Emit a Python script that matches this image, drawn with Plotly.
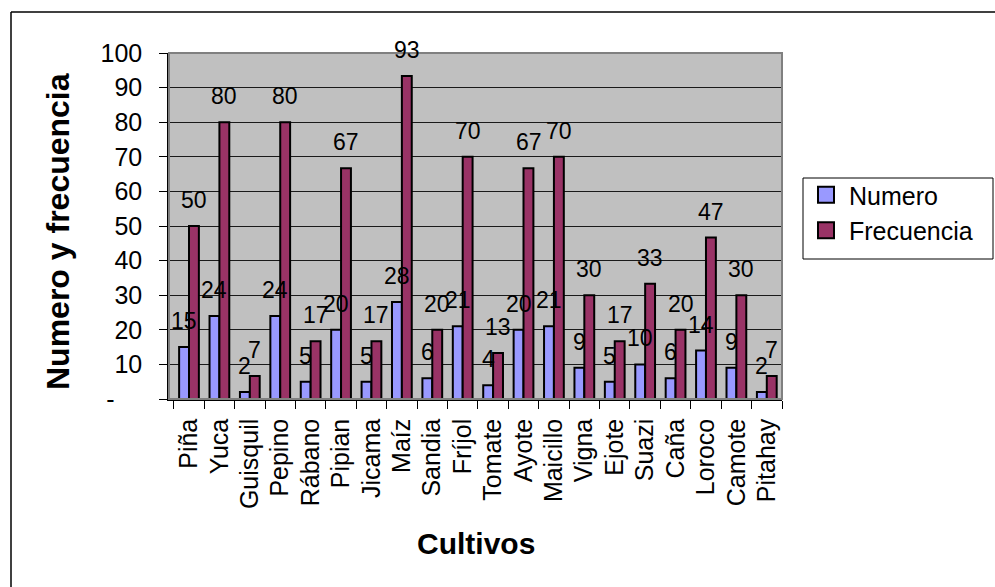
import plotly.graph_objects as go

categorias = ["Piña", "Yuca", "Guisquil", "Pepino", "Rábano", "Pipian", "Jicama", "Maíz",
              "Sandia", "Fríjol", "Tomate", "Ayote", "Maicillo", "Vigna", "Ejote", "Suazi",
              "Caña", "Loroco", "Camote", "Pitahay"]
numero = [15, 24, 2, 24, 5, 20, 5, 28, 6, 21, 4, 20, 21, 9, 5, 10, 6, 14, 9, 2]
frecuencia = [50, 80, 6.67, 80, 16.67, 66.67, 16.67, 93.33, 20, 70, 13.33, 66.67, 70,
              30, 16.67, 33.33, 20, 46.67, 30, 6.67]
series_names = ["Numero", "Frecuencia"]
series_colors = ["#9999FF", "#993366"]
y_ticks = [0, 10, 20, 30, 40, 50, 60, 70, 80, 90, 100]
y_ticktext = ["-\u00a0\u00a0\u00a0\u00a0", "10", "20", "30", "40", "50", "60", "70", "80", "90", "100"]

FONT = "Liberation Sans, Arial, sans-serif"
W, H = 995, 587
L, R, T, B = 169, 782, 53, 399

fig = go.Figure()
for name, vals, col in zip(series_names, [numero, frecuencia], series_colors):
    fig.add_trace(go.Bar(name=name, x=categorias, y=vals, showlegend=False,
                         marker=dict(color=col, line=dict(color="black", width=2))))
# legend entries with larger square swatches (as in the original)
for i, (name, col) in enumerate(zip(series_names, series_colors)):
    fig.add_trace(go.Scatter(name=name, x=[None], y=[None], mode="markers",
                             legendgroup=f"g{i}",
                             marker=dict(symbol="square", size=16, color=col,
                                         line=dict(color="black", width=2))))

annotations = []
for cat, n, f in zip(categorias, numero, frecuencia):
    annotations.append(dict(x=cat, y=n, xref="x", yref="y", text=str(round(n)),
                            showarrow=False, xshift=-5, yshift=26, yanchor="middle",
                            font=dict(family=FONT, size=23, color="black")))
    annotations.append(dict(x=cat, y=f, xref="x", yref="y", text=str(round(f)),
                            showarrow=False, xshift=5, yshift=26, yanchor="middle",
                            font=dict(family=FONT, size=23, color="black")))

pw, ph = R - L, B - T
annotations.append(dict(text="<b>Cultivos</b>", xref="paper", yref="paper",
                        x=0.5, y=(B - 543) / ph, xanchor="center", yanchor="middle",
                        showarrow=False, font=dict(family=FONT, size=30, color="black")))
annotations.append(dict(text="<b>Numero y frecuencia</b>", xref="paper", yref="paper",
                        x=(58 - L) / pw, y=(B - 232) / ph, xanchor="center", yanchor="middle",
                        textangle=-90, showarrow=False,
                        font=dict(family=FONT, size=32, color="black")))

shapes = [
    dict(type="rect", xref="paper", yref="paper", x0=0, x1=1, y0=0, y1=1,
         line=dict(color="#808080", width=2), layer="above"),
    dict(type="line", xref="paper", yref="paper", x0=(11 - L) / pw, x1=(11 - L) / pw,
         y0=(B - 12) / ph, y1=(B - 600) / ph, line=dict(color="black", width=1.5)),
    dict(type="line", xref="paper", yref="paper", x0=(11 - L) / pw, x1=(1000 - L) / pw,
         y0=(B - 12) / ph, y1=(B - 12) / ph, line=dict(color="black", width=1.5)),
    # legend frame
    dict(type="rect", xref="paper", yref="paper", x0=(803 - L) / pw, x1=(993 - L) / pw,
         y0=(B - 259) / ph, y1=(B - 178) / ph, line=dict(color="black", width=1),
         fillcolor="white", layer="below"),
]

fig.update_layout(
    width=W, height=H,
    margin=dict(l=L, r=W - R, t=T, b=H - B, pad=0, autoexpand=False),
    paper_bgcolor="white", plot_bgcolor="#C0C0C0",
    barmode="group", bargap=0.35, bargroupgap=0,
    font=dict(family=FONT, size=24, color="black"),
    showlegend=True,
    legend=dict(x=(803 - L) / pw, y=(B - 172) / ph, xanchor="left", yanchor="top",
                borderwidth=0, bgcolor="rgba(0,0,0,0)", itemwidth=36,
                tracegroupgap=6, traceorder="normal",
                font=dict(family=FONT, size=25, color="black")),
    annotations=annotations, shapes=shapes,
)
fig.update_xaxes(type="category", tickangle=-90, ticks="outside", ticklen=8,
                 tickcolor="black", tickson="boundaries", showline=True, dtick=1,
                 linecolor="black", linewidth=1.5, showgrid=False, automargin=False,
                 tickfont=dict(family=FONT, size=25, color="black"), ticklabelstandoff=8)
fig.update_yaxes(range=[0, 100], tickvals=y_ticks, ticktext=y_ticktext,
                 ticks="outside", ticklen=8, tickcolor="black", showline=True,
                 linecolor="black", linewidth=1.5, showgrid=True, gridcolor="#1a1a1a",
                 gridwidth=1, zeroline=False, automargin=False,
                 tickfont=dict(family=FONT, size=25, color="black"), ticklabelstandoff=12)

fig.write_html("out.html")
